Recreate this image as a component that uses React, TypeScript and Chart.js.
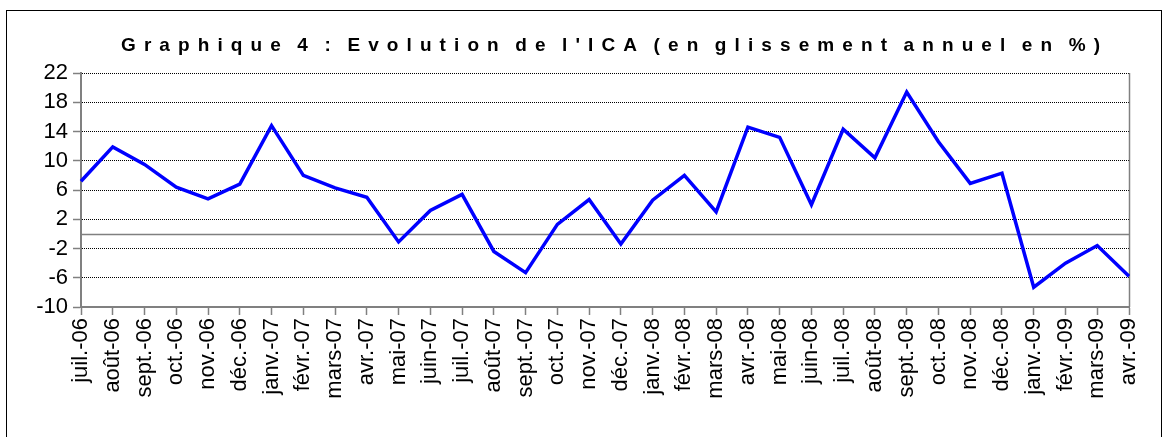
import React, { useEffect, useRef } from "react";
import { Chart, registerables } from "chart.js";

Chart.register(...registerables);

const TITLE = "Graphique 4 : Evolution de l'ICA (en glissement annuel en %)";

const months = [
  "juil.-06", "août-06", "sept.-06", "oct.-06", "nov.-06", "déc.-06",
  "janv.-07", "févr.-07", "mars-07", "avr.-07", "mai-07", "juin-07",
  "juil.-07", "août-07", "sept.-07", "oct.-07", "nov.-07", "déc.-07",
  "janv.-08", "févr.-08", "mars-08", "avr.-08", "mai-08", "juin-08",
  "juil.-08", "août-08", "sept.-08", "oct.-08", "nov.-08", "déc.-08",
  "janv.-09", "févr.-09", "mars-09", "avr.-09",
];

const icaValues = [
  7.2, 11.9, 9.5, 6.4, 4.8, 6.8,
  14.8, 8.0, 6.3, 5.0, -1.1, 3.2,
  5.4, -2.4, -5.3, 1.3, 4.7, -1.4,
  4.6, 8.0, 3.0, 14.6, 13.2, 4.0,
  14.3, 10.4, 19.4, 12.6, 6.9, 8.3,
  -7.3, -4.0, -1.6, -5.8,
];

const yMin = -10;
const yMax = 22;
const yStep = 4;

const FONT = "'Liberation Sans', Arial, Helvetica, sans-serif";
const AXIS_GRAY = "#808080";

const framePlugin = {
  id: "frame",
  beforeDatasetsDraw(chart: any) {
    const { ctx, chartArea, scales } = chart;
    const y0 = Math.round(scales.y.getPixelForValue(0)) + 0.5;
    ctx.save();
    ctx.strokeStyle = AXIS_GRAY;
    ctx.lineWidth = 1.5;
    ctx.beginPath();
    ctx.moveTo(chartArea.left, y0);
    ctx.lineTo(chartArea.right, y0);
    ctx.stroke();
    ctx.beginPath();
    ctx.moveTo(Math.round(chartArea.right) + 0.5, chartArea.top);
    ctx.lineTo(Math.round(chartArea.right) + 0.5, chartArea.bottom);
    ctx.stroke();
    ctx.restore();
  },
  afterDraw(chart: any) {
    const { ctx } = chart;
    ctx.save();
    // outer border
    ctx.strokeStyle = "#000";
    ctx.lineWidth = 1;
    ctx.strokeRect(6.5, 10.5, 1155, 600);
    // title with wide letter spacing
    ctx.font = `bold 19px ${FONT}`;
    ctx.fillStyle = "#000";
    ctx.textAlign = "left";
    ctx.textBaseline = "alphabetic";
    const c: any = ctx;
    c.letterSpacing = "0px";
    if ("wordSpacing" in c) c.wordSpacing = "0px";
    const w0 = ctx.measureText(TITLE).width;
    const targetLeft = 121;
    const targetRight = 1100;
    const gaps = TITLE.length - 1;
    const spaces = TITLE.split(" ").length - 1;
    let letter = 8.1;
    let word = (targetRight - targetLeft - w0 - gaps * letter) / spaces;
    if (!("wordSpacing" in c)) {
      letter = (targetRight - targetLeft - w0) / gaps;
      word = 0;
    }
    c.letterSpacing = `${letter}px`;
    if ("wordSpacing" in c) c.wordSpacing = `${word}px`;
    ctx.fillText(TITLE, targetLeft, 51);
    c.letterSpacing = "0px";
    if ("wordSpacing" in c) c.wordSpacing = "0px";
    ctx.restore();
  },
};

export default function App() {
  const canvasRef = useRef<HTMLCanvasElement | null>(null);

  useEffect(() => {
    const canvas = canvasRef.current;
    if (!canvas) return;
    const chart = new Chart(canvas, {
      type: "line",
      data: {
        labels: months,
        datasets: [
          {
            label: "ICA",
            data: icaValues,
            borderColor: "#0000FF",
            backgroundColor: "#0000FF",
            borderWidth: 3.5,
            pointRadius: 0,
            tension: 0,
            fill: false,
          },
        ],
      },
      options: {
        animation: false,
        responsive: false,
        devicePixelRatio: 1,
        layout: { padding: { top: 73, right: 34, left: 0, bottom: 0 } },
        plugins: {
          legend: { display: false },
          tooltip: { enabled: false },
          title: { display: false },
        },
        scales: {
          x: {
            offset: false,
            grid: {
              offset: false,
              drawOnChartArea: false,
              drawTicks: true,
              tickLength: 8,
              tickColor: AXIS_GRAY,
              tickWidth: 1.5,
            },
            border: { display: true, color: AXIS_GRAY, width: 2 },
            ticks: {
              autoSkip: false,
              maxRotation: 90,
              minRotation: 90,
              padding: 3,
              color: "#000",
              font: { family: FONT, size: 22 },
            },
            afterFit(scale: any) {
              scale.height = 130;
            },
          },
          y: {
            min: yMin,
            max: yMax,
            grid: {
              color: (c: any) =>
                c.tick && c.tick.value === yMin ? "rgba(0,0,0,0)" : "#000",
              lineWidth: 1,
              drawTicks: true,
              tickLength: 8,
              tickColor: AXIS_GRAY,
              tickWidth: 1.5,
            },
            border: { display: true, color: AXIS_GRAY, width: 2, dash: [1, 1] },
            ticks: {
              stepSize: yStep,
              autoSkip: false,
              padding: 5,
              color: "#000",
              font: { family: FONT, size: 22 },
            },
            afterFit(scale: any) {
              scale.width = 81;
            },
          },
        },
      },
      plugins: [framePlugin],
    });
    return () => chart.destroy();
  }, []);

  return (
    <div
      style={{
        position: "absolute",
        left: 0,
        top: 0,
        width: 1163,
        height: 437,
        overflow: "hidden",
        background: "#fff",
      }}
    >
      <canvas ref={canvasRef} width={1163} height={437} />
    </div>
  );
}
